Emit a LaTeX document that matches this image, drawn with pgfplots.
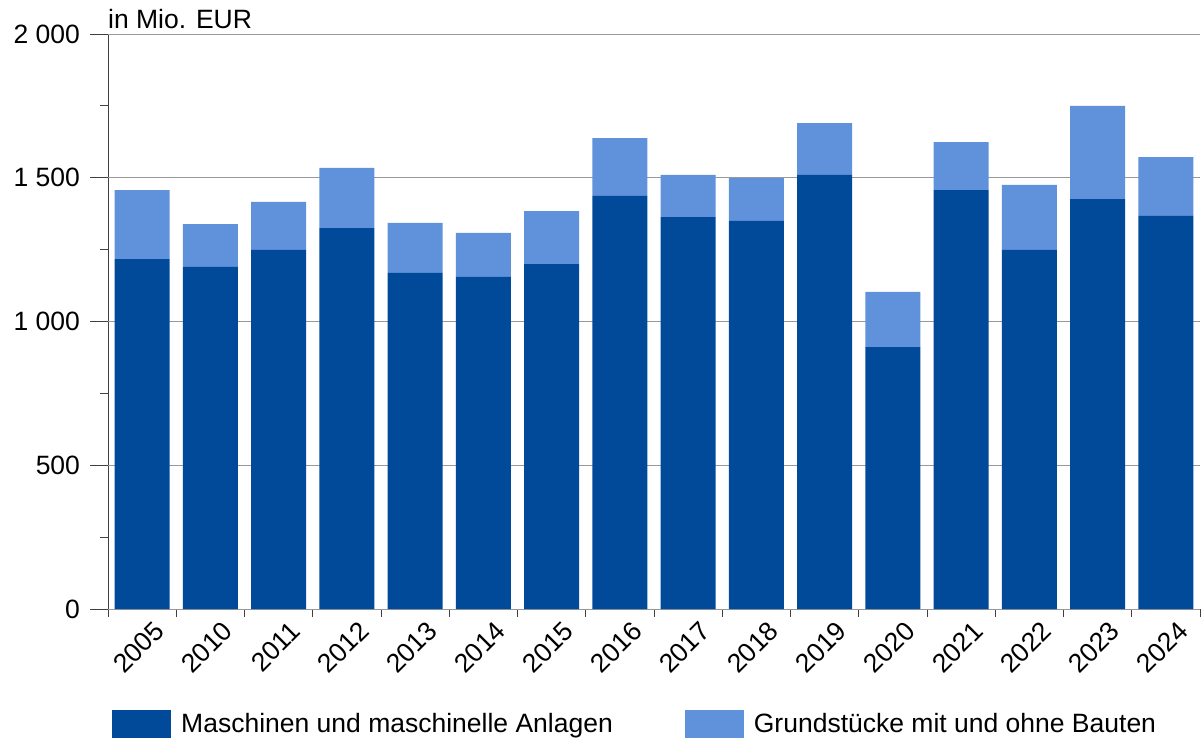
\documentclass[border=0pt]{standalone}
\usepackage{pgfplots}
\pgfplotsset{compat=1.18}
\usepackage{fontspec}
\setmainfont{Liberation Sans}
\definecolor{dunkel}{RGB}{0,74,153}
\definecolor{hell}{RGB}{95,146,218}
\newcommand{\fs}{\fontsize{26.5}{31}\selectfont}
\begin{document}
\fs
\begin{tikzpicture}
\useasboundingbox (-108pt,-131pt) rectangle (1095pt,609pt);
\begin{axis}[
  at={(0pt,0pt)}, anchor=south west,
  scale only axis, width=1092pt, height=575pt,
  ybar stacked, bar width=55pt,
  xmin=-0.5, xmax=15.5, ymin=0, ymax=2000,
  axis x line*=bottom, axis y line*=left,
  axis line style={black!75, line width=0.8pt},
  grid style={black!40, line width=0.8pt},
  xtick={-0.5,0.5,...,15.5},
  xticklabels={},
  extra x ticks={0,...,15},
  extra x tick labels={2005,2010,2011,2012,2013,2014,2015,2016,2017,2018,2019,2020,2021,2022,2023,2024},
  extra x tick style={major tick length=0pt,
    tick label style={rotate=45, anchor=north east, font=\fs, xshift=9pt, yshift=-6pt}},
  ytick={250,750,1250,1750},
  yticklabels={},
  extra y ticks={0,500,1000,1500,2000},
  extra y tick labels={0,500,1\ 000,1\ 500,2\ 000},
  extra y tick style={major tick length=18pt, grid=major,
    tick label style={font=\fs, xshift=-1pt}},
  major tick length=8pt,
  tick align=outside,
  tick style={black!75, line width=0.8pt},
  legend columns=2,
  legend cell align=left,
  legend style={draw=none, fill=none, inner sep=0pt, at={(0.0037,-0.225)}, anchor=south west,
    font=\fs,
    /tikz/every odd column/.append style={column sep=8pt},
    /tikz/every even column/.append style={column sep=70pt}},
  legend image code/.code={\fill[#1] (0pt,-13pt) rectangle (59pt,15pt);},
  clip=false,
]
\addplot[fill=dunkel, draw=none] coordinates {
(0,1217) (1,1190) (2,1249) (3,1325) (4,1169) (5,1155) (6,1200) (7,1437)
(8,1363) (9,1350) (10,1510) (11,911) (12,1457) (13,1249) (14,1426) (15,1367)};
\addplot[fill=hell, draw=none] coordinates {
(0,240) (1,149) (2,167) (3,209) (4,174) (5,153) (6,184) (7,201)
(8,147) (9,149) (10,180) (11,192) (12,167) (13,226) (14,324) (15,205)};
\legend{Maschinen und maschinelle Anlagen, Grundstücke mit und ohne Bauten}
\node[anchor=base west, inner sep=0pt] at (rel axis cs:0,1) [yshift=5pt] {in Mio. EUR};
\end{axis}
\end{tikzpicture}
\end{document}
